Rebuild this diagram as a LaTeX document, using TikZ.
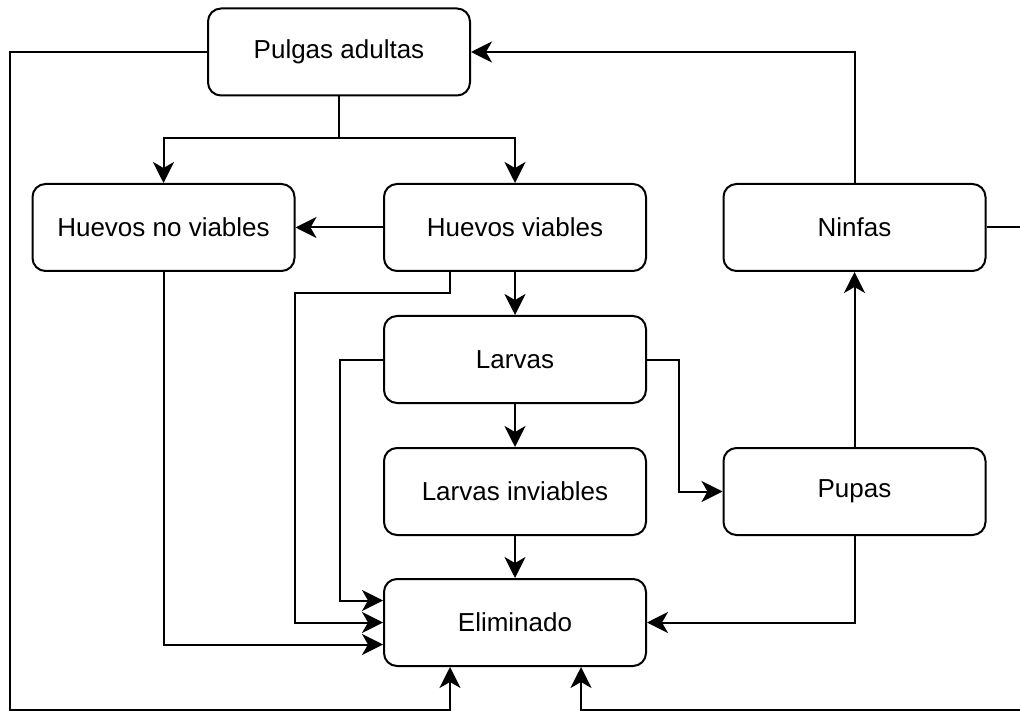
\documentclass[tikz,border=0pt]{standalone}
\usepackage{fontspec}
\setmainfont{Liberation Sans}
\usetikzlibrary{arrows.meta}

\begin{document}
\begin{tikzpicture}[x=1pt, y=-1pt, line width=2pt,
    stage/.style={draw, rounded corners=13pt, minimum width=262pt, minimum height=87pt,
        font=\fontsize{26}{31}\selectfont},
    arr/.style={-{Stealth[length=21pt,width=21pt,inset=6pt]}}]
            \useasboundingbox (0,0) rectangle (1020,711);

            \node[stage] (pulgas) at (339, 52) {Pulgas adultas};
            \node[stage] (novia) at (163.5, 227.5) {Huevos no viables};
            \node[stage] (viables) at (515, 227.5) {Huevos viables};
            \node[stage] (ninfas) at (854.5, 227.5) {Ninfas};
            \node[stage] (larvas) at (515, 359.5) {Larvas};
            \node[stage] (inviables) at (515, 491.5) {Larvas inviables};
            \node[stage] (pupas) at (854.5, 491.5) {Pupas};
            \node[stage] (elim) at (515, 622.5) {Eliminado};

            \draw[arr] (pulgas.south) -- ++(0,42) -| (novia.north);
            \draw[arr] (pulgas.south) -- ++(0,42) -| (viables.north);
            \draw[arr] (viables.west) -- (novia.east);
            \draw[arr] (viables.south) -- (larvas.north);
            \draw[arr] (larvas.south) -- (inviables.north);
            \draw[arr] (inviables.south) -- (elim.north);
            \draw[arr] (larvas.east) -- (679, 359.5) |- (pupas.west);
            \draw[arr] (pupas.north) -- (ninfas.south);
            \draw[arr] (ninfas.north) |- (pulgas.east);
            \draw[arr] (pupas.south) |- (elim.east);

            % routes into Eliminado from the left
            \draw[arr] ([xshift=-65pt]viables.south) |- (295, 293) |- (elim.west);
            \draw[arr] (larvas.west) -- (340, 359.5) |- ([yshift=22pt]elim.west);
            \draw[arr] (novia.south) |- ([yshift=-22pt]elim.west);

            % long returns along the border
            \draw[arr] (pulgas.west) -| (10, 710) -| ([xshift=-65pt]elim.south);
            \draw[arr] (ninfas.east) -| (1030, 710) -| ([xshift=66pt]elim.south);
\end{tikzpicture}
\end{document}
